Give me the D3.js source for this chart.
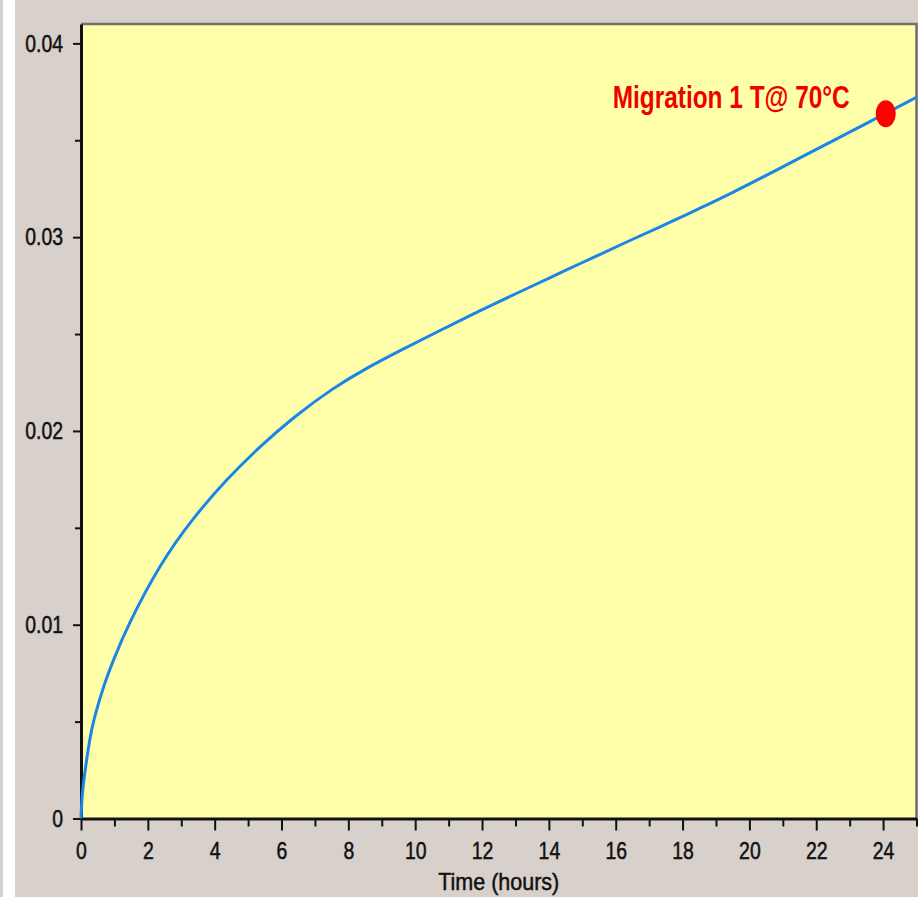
<!DOCTYPE html>
<html>
<head>
<meta charset="utf-8">
<script src="https://cdn.jsdelivr.net/npm/d3@7"></script>
<style>
  body { margin: 0; background: #d8d0cb; }
  svg { display: block; }
  text { font-family: "Liberation Sans", Arial, sans-serif; }
</style>
</head>
<body>
<svg id="chart" width="918" height="897"></svg>
<script>
// values
const hours = [0, 0.02, 0.05, 0.12, 0.27, 0.37, 0.7, 1.0, 1.37, 2.36, 3.36, 4.36, 5.36, 6.35, 7.55, 8.55, 9.55, 10.55, 11.54, 12.5, 13.53, 14.5, 15.53, 16.5, 17.52, 18.52, 19.52, 20.52, 21.51, 22.51, 23.51, 25];
const migration = [0, 0.0008, 0.0015, 0.00247, 0.0042, 0.00505, 0.0070, 0.0083, 0.00986, 0.01314, 0.01553, 0.01751, 0.01921, 0.0207, 0.02223, 0.02325, 0.02415, 0.02502, 0.02587, 0.02667, 0.0275, 0.02829, 0.02911, 0.02989, 0.03068, 0.03149, 0.03232, 0.0332, 0.03409, 0.03498, 0.03588, 0.03722];
const markerPoint = [24.08, 0.03637];
const markerLabel = "Migration 1 T@ 70\u00b0C";
const xMajor = [0, 2, 4, 6, 8, 10, 12, 14, 16, 18, 20, 22, 24];
const xMinor = [1, 3, 5, 7, 9, 11, 13, 15, 17, 19, 21, 23, 25];
const yMajor = [0, 0.01, 0.02, 0.03, 0.04];
const yMinor = [0.005, 0.015, 0.025, 0.035];
const xTitle = "Time (hours)";

const svg = d3.select("#chart");
const plotLeft = 81, plotRight = 916.5, plotTop = 24, plotBottom = 818.5;

var x = d3.scaleLinear().domain([0, 25]).range([plotLeft, plotRight]);
var y = d3.scaleLinear().domain([0, 0.041]).range([plotBottom, plotTop]);

// white strip on the left edge
svg.append("rect")
    .attr("x", 3).attr("y", 0)
    .attr("width", 12).attr("height", 897)
    .attr("fill", "#ffffff");

// plot area
svg.append("rect")
    .attr("x", plotLeft).attr("y", plotTop)
    .attr("width", plotRight - plotLeft).attr("height", plotBottom - plotTop)
    .attr("fill", "#ffffaa");

// grey frame on top and right
svg.append("path")
    .attr("d", "M" + plotLeft + "," + plotTop + "H" + plotRight + "V" + plotBottom)
    .attr("fill", "none")
    .attr("stroke", "#707070")
    .attr("stroke-width", 2.5);

// shrinks text horizontally like the original
function squeeze(sel, k) {
  sel.each(function() {
    let w = this.getComputedTextLength();
    d3.select(this).attr("textLength", w * k).attr("lengthAdjust", "spacingAndGlyphs");
  });
}

// minor ticks first, then the labelled axes
svg.append("g")
    .attr("transform", "translate(0," + plotBottom + ")")
    .call(d3.axisBottom(x).tickValues(xMinor).tickSize(8).tickSizeOuter(0).tickFormat(""))
    .call(g => g.select(".domain").remove())
    .selectAll("line").attr("stroke", "#111").attr("stroke-width", 2);

svg.append("g")
    .attr("transform", "translate(" + plotLeft + ",0)")
    .call(d3.axisLeft(y).tickValues(yMinor).tickSize(6).tickSizeOuter(0).tickFormat(""))
    .call(g => g.select(".domain").remove())
    .selectAll("line").attr("stroke", "#111").attr("stroke-width", 2);

var xAxis = svg.append("g")
    .attr("transform", "translate(0," + plotBottom + ")")
    .call(d3.axisBottom(x).tickValues(xMajor).tickSize(12).tickSizeOuter(0).tickPadding(11));

var yAxis = svg.append("g")
    .attr("transform", "translate(" + plotLeft + ",0)")
    .call(d3.axisLeft(y).tickValues(yMajor).tickSize(8).tickSizeOuter(0).tickPadding(10)
      .tickFormat(d => d === 0 ? "0" : d3.format(".2f")(d)));

[xAxis, yAxis].forEach(function(a) {
  a.select(".domain").attr("stroke", "#111").attr("stroke-width", 3);
  a.selectAll(".tick line").attr("stroke", "#111").attr("stroke-width", 2);
  a.selectAll(".tick text")
      .attr("fill", "#111")
      .attr("stroke", "#111")
      .attr("stroke-width", 0.5)
      .style("font-size", "24px")
      .call(squeeze, 0.81);
});

// axis title
svg.append("text")
    .attr("x", (plotLeft + plotRight) / 2)
    .attr("y", 890)
    .attr("text-anchor", "middle")
    .attr("fill", "#111")
    .attr("stroke", "#111")
    .attr("stroke-width", 0.5)
    .style("font-size", "24px")
    .text(xTitle)
    .attr("textLength", 121)
    .attr("lengthAdjust", "spacingAndGlyphs");

// the curve, smoothed with a b-spline through the read points
var line = d3.line()
    .x((d, i) => x(hours[i]))
    .y(d => y(d))
    .curve(d3.curveBasis);

svg.append("path")
    .datum(migration)
    .attr("d", line)
    .attr("fill", "none")
    .attr("stroke", "#1a86e6")
    .attr("stroke-width", 3);

// marker and its label
svg.append("ellipse")
    .attr("cx", x(markerPoint[0]))
    .attr("cy", y(markerPoint[1]))
    .attr("rx", 10)
    .attr("ry", 13.5)
    .attr("fill", "#ff0000");

svg.append("text")
    .attr("x", 612.7)
    .attr("y", 108)
    .attr("fill", "#ee0000")
    .style("font-size", "31px")
    .style("font-weight", "bold")
    .text(markerLabel)
    .attr("textLength", 237)
    .attr("lengthAdjust", "spacingAndGlyphs");
</script>
</body>
</html>
